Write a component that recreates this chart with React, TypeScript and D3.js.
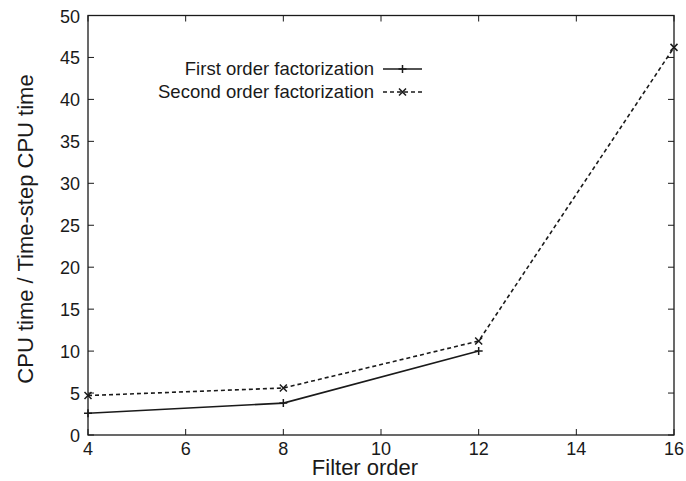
import * as d3 from 'd3';
import React, { useEffect, useRef } from 'react';

const filterOrders = [4, 8, 12, 16];
const firstOrder = [2.6, 3.8, 10.0];
const secondOrder = [4.7, 5.6, 11.2, 46.2];
const xTicks = [4, 6, 8, 10, 12, 14, 16];
const yTicks = [0, 5, 10, 15, 20, 25, 30, 35, 40, 45, 50];
const seriesNames = ['First order factorization', 'Second order factorization'];

const W = 686;
const H = 481;

const App: React.FC = () => {
  const svgRef = useRef<SVGSVGElement>(null);

  useEffect(() => {
    const svg = d3.select(svgRef.current).html('');
    const margin = { top: 15.5, right: 12, bottom: 46, left: 88 };
    const x = d3.scaleLinear().domain([4, 16]).range([margin.left, W - margin.right]);
    const y = d3.scaleLinear().domain([0, 50]).range([H - margin.bottom, margin.top]);
    const ink = '#1a1a1a';
    const font = 'Liberation Sans, Arial, sans-serif';
    const tl = 6;

    // frame
    svg.append('rect')
      .attr('x', x(4)).attr('y', y(50))
      .attr('width', x(16) - x(4)).attr('height', y(0) - y(50))
      .attr('fill', 'none').attr('stroke', ink).attr('stroke-width', 1.3);

    const g = svg.append('g').attr('stroke', ink).attr('stroke-width', 1);
    xTicks.forEach(t => {
      g.append('line').attr('x1', x(t)).attr('x2', x(t)).attr('y1', y(0)).attr('y2', y(0) - tl);
      g.append('line').attr('x1', x(t)).attr('x2', x(t)).attr('y1', y(50)).attr('y2', y(50) + tl);
    });
    yTicks.forEach(t => {
      g.append('line').attr('x1', x(4)).attr('x2', x(4) + tl).attr('y1', y(t)).attr('y2', y(t));
      g.append('line').attr('x1', x(16)).attr('x2', x(16) - tl).attr('y1', y(t)).attr('y2', y(t));
    });

    svg.append('g').selectAll('text').data(xTicks).enter().append('text')
      .attr('x', d => x(d)).attr('y', y(0) + 20)
      .attr('text-anchor', 'middle').attr('font-family', font).attr('font-size', 18)
      .attr('fill', ink).text(d => d);

    svg.append('g').selectAll('text').data(yTicks).enter().append('text')
      .attr('x', x(4) - 8).attr('y', d => y(d) + 7)
      .attr('text-anchor', 'end').attr('font-family', font).attr('font-size', 18)
      .attr('fill', ink).text(d => d);

    svg.append('text')
      .attr('x', 365).attr('y', 475)
      .attr('text-anchor', 'middle').attr('font-family', font).attr('font-size', 22)
      .attr('fill', ink).text('Filter order');

    svg.append('text')
      .attr('transform', `translate(33,229) rotate(-90)`)
      .attr('text-anchor', 'middle').attr('font-family', font).attr('font-size', 22)
      .attr('fill', ink).text('CPU time / Time-step CPU time');

    const line = d3.line<number>().x((_, i) => x(filterOrders[i])).y(d => y(d));

    svg.append('path').datum(firstOrder).attr('d', line)
      .attr('fill', 'none').attr('stroke', ink).attr('stroke-width', 1.6);
    svg.append('path').datum(secondOrder).attr('d', line)
      .attr('fill', 'none').attr('stroke', ink).attr('stroke-width', 1.6)
      .attr('stroke-dasharray', '4,3');

    const plus = (px: number, py: number) => {
      svg.append('path').attr('d', `M${px - 4},${py}H${px + 4}M${px},${py - 4}V${py + 4}`)
        .attr('stroke', ink).attr('stroke-width', 1.5);
    };
    const cross = (px: number, py: number) => {
      svg.append('path').attr('d', `M${px - 3.5},${py - 3.5}L${px + 3.5},${py + 3.5}M${px - 3.5},${py + 3.5}L${px + 3.5},${py - 3.5}`)
        .attr('stroke', ink).attr('stroke-width', 1.5);
    };
    firstOrder.forEach((v, i) => plus(x(filterOrders[i]), y(v)));
    secondOrder.forEach((v, i) => cross(x(filterOrders[i]), y(v)));

    // legend
    const lx0 = 383, lx1 = 422;
    const rows = [69, 92];
    seriesNames.forEach((name, i) => {
      svg.append('text')
        .attr('x', 374).attr('y', rows[i] + 6)
        .attr('text-anchor', 'end').attr('font-family', font).attr('font-size', 18.5)
        .attr('fill', ink).text(name);
      const l = svg.append('line').attr('x1', lx0).attr('x2', lx1).attr('y1', rows[i]).attr('y2', rows[i])
        .attr('stroke', ink).attr('stroke-width', 1.6);
      if (i === 1) l.attr('stroke-dasharray', '4,3');
      if (i === 0) plus((lx0 + lx1) / 2, rows[i]);
      else cross((lx0 + lx1) / 2, rows[i]);
    });
  }, []);

  return <svg ref={svgRef} width={W} height={H} style={{ position: 'absolute', left: 0, top: 0 }} />;
};

export default App;
